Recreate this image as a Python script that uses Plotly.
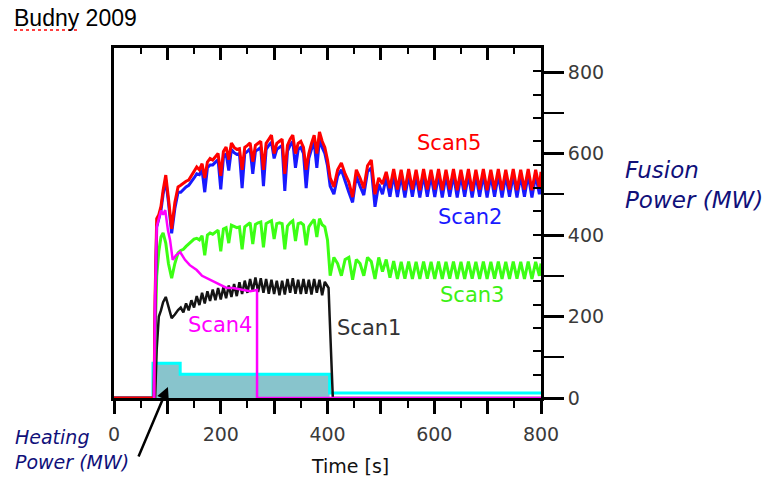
import plotly.graph_objects as go

# ---------------- data ----------------
# time grids [s]
t_rise = [0, 75, 77, 80, 84, 88, 92, 97, 102, 108, 114, 120]
t_flat = [125, 130, 135, 140, 145, 150, 155, 160, 165, 170,
          175, 180, 185, 190, 195, 200, 205, 210, 215, 220,
          225, 230, 235, 240, 245, 250, 255, 260, 265, 270,
          275, 280, 285, 290, 295, 300, 305, 310, 315, 320,
          325, 330, 335, 340, 345, 350, 355, 360, 365, 370,
          375, 380, 385, 390, 395, 400]
t_late = [405, 412, 419, 426, 433, 440, 447, 454, 461, 468,
          475, 482, 489, 496, 503, 510, 517, 524, 531, 538,
          545, 552, 559, 566, 573, 580, 587, 594, 601, 608,
          615, 622, 629, 636, 643, 650, 657, 664, 671, 678,
          685, 692, 699, 706, 713, 720, 727, 734, 741, 748,
          755, 762, 769, 776, 783, 790, 797, 800]

# Scan5 (red) fusion power [MW]
scan5_rise = [0, 0, 250, 440, 450, 470, 510, 547, 490, 415, 480, 518]
scan5_flat = [522, 528, 532, 535, 545, 555, 567, 560, 575, 540,
              579, 588, 584, 592, 600, 545, 605, 616, 585, 626,
              615, 610, 612, 560, 615, 620, 626, 580, 620, 625,
              630, 560, 625, 635, 645, 600, 625, 630, 635, 550,
              620, 635, 645, 600, 625, 630, 615, 560, 600, 625,
              645, 600, 653, 630, 615, 584]
scan5_late = [540, 518, 560, 577, 550, 530, 493, 560, 540, 515,
              570, 584, 500, 540, 525, 555, 515, 562, 512, 560,
              510, 562, 512, 560, 510, 562, 512, 560, 512, 562,
              510, 560, 512, 562, 510, 560, 512, 562, 508, 560,
              512, 562, 510, 560, 512, 562, 510, 560, 512, 562,
              510, 560, 512, 562, 510, 560, 515, 555]

# Scan2 (blue)
scan2_rise = [0, 0, 200, 420, 440, 460, 500, 535, 480, 404, 465, 505]
scan2_flat = [505, 512, 518, 522, 530, 540, 550, 548, 560, 505,
              565, 572, 572, 578, 585, 512, 590, 600, 558, 610,
              602, 598, 600, 515, 600, 605, 612, 550, 606, 610,
              615, 520, 610, 620, 628, 588, 610, 615, 620, 508,
              606, 620, 630, 565, 610, 615, 600, 515, 588, 610,
              628, 565, 635, 615, 600, 570]
scan2_late = [520, 500, 545, 560, 530, 505, 480, 545, 520, 498,
              555, 565, 469, 525, 500, 540, 494, 548, 493, 546,
              492, 548, 494, 546, 492, 548, 494, 546, 493, 548,
              492, 546, 494, 548, 492, 546, 494, 548, 492, 546,
              494, 548, 492, 546, 494, 548, 492, 546, 494, 548,
              492, 546, 494, 548, 492, 546, 500, 540]

# Scan3 (green)
scan3_rise = [0, 0, 150, 300, 360, 395, 405, 380, 330, 294, 330, 356]
scan3_flat = [362, 365, 372, 378, 385, 390, 392, 388, 398, 350,
              400, 405, 402, 408, 412, 360, 415, 418, 380, 424,
              420, 418, 420, 365, 420, 425, 430, 378, 426, 430,
              432, 370, 428, 432, 435, 390, 428, 430, 428, 365,
              422, 430, 435, 385, 428, 430, 425, 375, 420, 430,
              438, 395, 440, 425, 420, 388]
scan3_late = [300, 345, 330, 300, 340, 345, 290, 340, 330, 300,
              345, 335, 292, 345, 310, 340, 295, 336, 292, 334,
              293, 335, 292, 334, 292, 335, 293, 334, 292, 335,
              292, 334, 293, 335, 292, 334, 292, 335, 293, 334,
              292, 335, 292, 334, 293, 335, 292, 334, 292, 335,
              293, 334, 292, 335, 292, 334, 300, 330]

# Scan1 (black)
scan1_rise = [0, 0, 0, 120, 200, 215, 235, 248, 225, 196, 205, 216]
scan1_flat = [222, 210, 232, 215, 240, 222, 250, 228, 258, 232,
              262, 238, 266, 240, 270, 242, 272, 245, 276, 248,
              280, 250, 284, 255, 288, 258, 292, 262, 296, 260,
              294, 258, 292, 256, 290, 255, 288, 252, 288, 254,
              292, 258, 294, 256, 290, 255, 292, 256, 290, 254,
              292, 258, 290, 252, 285, 272]
t_scan1_end = [402, 404, 406, 408, 410, 800]
scan1_end = [270, 200, 120, 50, 0, 0]

# Scan4 (magenta)
t_scan4 = [75, 77, 80, 84, 88, 92, 96, 101, 105, 110, 116, 124, 133,
           142, 155, 165, 174, 186, 198, 211, 223, 242, 255, 268, 268, 800]
scan4 = [0, 250, 420, 444, 460, 450, 461, 412, 388, 339, 350, 358, 339,
         326, 314, 300, 294, 285, 277, 270, 270, 265, 262, 265, 0, 0]

# Heating power (step levels, same vertical scale)
heat_t = [73, 124, 404, 800]
heat_p = [85, 58, 12, 12]

# tick labels
x_ticks = [0, 100, 200, 300, 400, 500, 600, 700, 800]
x_ticktext = ["0", "", "200", "", "400", "", "600", "", "800"]
y_ticks = [0, 200, 400, 600, 800]
y_ticktext = ["0", "200", "400", "600", "800"]

# ---------------- figure ----------------
W, H = 767, 479
L, R, T, B = 114, 226, 48, 81
PW, PH = W - L - R, H - T - B


def px(x):
    return (x - L) / PW


def py(y):
    return (H - B - y) / PH


fig = go.Figure()

# heating power fill (boosted phases, up to the end of the flat-top)
fx, fy = [heat_t[0]], [0]
for i in range(2):
    fx += [heat_t[i], heat_t[i + 1]]
    fy += [heat_p[i], heat_p[i]]
fx.append(heat_t[2])
fy.append(0)
fig.add_trace(go.Scatter(x=fx, y=fy, fill="toself", mode="lines",
                         line=dict(width=0), fillcolor="rgb(136,196,204)",
                         hoverinfo="skip"))
fig.add_trace(go.Scatter(x=[heat_t[0]] + heat_t, y=[0] + heat_p, mode="lines",
                         line=dict(color="rgb(0,255,255)", width=3, shape="hv")))

fig.add_trace(go.Scatter(x=t_rise + t_flat + t_scan1_end,
                         y=scan1_rise + scan1_flat + scan1_end, mode="lines",
                         line=dict(color="rgb(20,20,20)", width=2.5)))
fig.add_trace(go.Scatter(x=t_rise + t_flat + t_late,
                         y=scan3_rise + scan3_flat + scan3_late, mode="lines",
                         line=dict(color="rgb(60,255,20)", width=3)))
fig.add_trace(go.Scatter(x=t_rise + t_flat + t_late,
                         y=scan2_rise + scan2_flat + scan2_late, mode="lines",
                         line=dict(color="rgb(25,25,255)", width=3)))
fig.add_trace(go.Scatter(x=t_rise + t_flat + t_late,
                         y=scan5_rise + scan5_flat + scan5_late, mode="lines",
                         line=dict(color="rgb(255,0,0)", width=3)))
fig.add_trace(go.Scatter(x=t_scan4, y=scan4, mode="lines",
                         line=dict(color="rgb(255,0,255)", width=2.5)))

# dummy traces so that the frame axes are drawn
fig.add_trace(go.Scatter(x=[None], y=[None], xaxis="x2", yaxis="y", hoverinfo="skip"))
fig.add_trace(go.Scatter(x=[None], y=[None], xaxis="x", yaxis="y3", hoverinfo="skip"))

tick_font = dict(family="DejaVu Sans", size=19, color="#3a3a3a")

fig.update_layout(
    width=W, height=H,
    margin=dict(l=L, r=R, t=T, b=B, pad=0),
    plot_bgcolor="white", paper_bgcolor="white",
    showlegend=False,
    xaxis=dict(range=[0, 800], showline=True, linecolor="black", linewidth=3,
               ticks="outside", tickmode="array", tickvals=x_ticks,
               ticktext=x_ticktext, ticklen=13, tickwidth=3, tickcolor="black",
               minor=dict(tickmode="linear", tick0=0, dtick=50, ticks="outside",
                          ticklen=7, tickwidth=2, tickcolor="black"),
               showgrid=False, zeroline=False, tickfont=tick_font,
               ticklabelstandoff=4),
    xaxis2=dict(range=[0, 800], overlaying="x", side="top", anchor="y",
                showline=True, linecolor="black", linewidth=3,
                ticks="inside", tickmode="array", tickvals=x_ticks,
                ticklen=12, tickwidth=3, tickcolor="black",
                minor=dict(tickmode="linear", tick0=0, dtick=50, ticks="inside",
                           ticklen=6, tickwidth=2, tickcolor="black"),
                showticklabels=False, showgrid=False, zeroline=False),
    yaxis=dict(range=[0, PH / 0.4075], side="right", showline=True, mirror=True,
               linecolor="black", linewidth=3, ticks="outside",
               tickmode="array", tickvals=y_ticks, ticktext=y_ticktext,
               ticklen=20, tickwidth=3, tickcolor="black",
               minor=dict(tickmode="linear", tick0=0, dtick=100, ticks="outside",
                          ticklen=20, tickwidth=2, tickcolor="black"),
               showgrid=False, zeroline=False, tickfont=tick_font),
    yaxis3=dict(range=[0, 15], overlaying="y", side="right", anchor="x",
                tickmode="linear", tick0=0, dtick=1, ticks="inside", ticklen=8,
                tickwidth=2, tickcolor="black", showticklabels=False,
                showline=False, showgrid=False, zeroline=False),
)

label_font = "DejaVu Sans"
ann = [
    dict(text="Budny 2009", x=px(12), y=py(18), xanchor="left", yanchor="middle",
         font=dict(family="Liberation Sans", size=23, color="black")),
    dict(text="Scan5", x=px(448.5), y=py(143), font=dict(family=label_font, size=21, color="rgb(255,0,0)")),
    dict(text="Scan2", x=px(470), y=py(217), font=dict(family=label_font, size=21, color="rgb(25,25,255)")),
    dict(text="Scan3", x=px(471.5), y=py(294.5), font=dict(family=label_font, size=21, color="rgb(60,240,20)")),
    dict(text="Scan4", x=px(220), y=py(325), font=dict(family=label_font, size=21, color="rgb(255,0,255)")),
    dict(text="Scan1", x=px(369), y=py(327.5), font=dict(family=label_font, size=21, color="#333333")),
    dict(text="Fusion<br>Power (MW)", x=px(623), y=py(185), xanchor="left", yanchor="middle",
         align="left", font=dict(family=label_font, size=23, color="#10107a", style="italic")),
    dict(text="Heating<br>Power (MW)", x=px(13), y=py(449), xanchor="left", yanchor="middle",
         align="left", font=dict(family=label_font, size=19, color="#10107a", style="italic")),
    dict(text="Time [s]", x=px(350), y=py(466), font=dict(family=label_font, size=19, color="#111111")),
]
for a in ann:
    a.setdefault("xanchor", "center")
    a.setdefault("yanchor", "middle")
    fig.add_annotation(xref="paper", yref="paper", showarrow=False, **a)

# arrow pointing at the heating power
fig.add_annotation(x=101, y=27, xref="x", yref="y", ax=-30, ay=71, text="",
                   showarrow=True, arrowhead=2, arrowsize=1, arrowwidth=2.5,
                   arrowcolor="black")

# spell-check underline below "Budny"
fig.add_shape(type="line", xref="paper", yref="paper", x0=px(14), x1=px(80),
              y0=py(30), y1=py(30), line=dict(color="red", width=1.5, dash="dot"))

fig.write_html("out.html", config={"displayModeBar": False},
               post_script="document.body.style.margin='0';document.body.style.overflow='hidden';")
